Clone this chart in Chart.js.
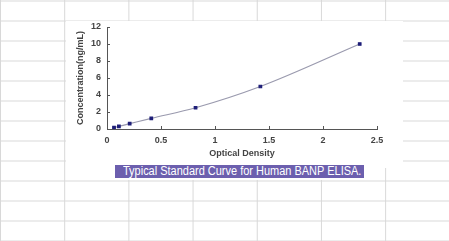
<!DOCTYPE html>
<html>
<head>
<meta charset="utf-8">
<script src="https://cdn.jsdelivr.net/npm/chart.js@4.4.1/dist/chart.umd.min.js"></script>
<style>
  html, body { margin: 0; padding: 0; }
  body {
    width: 449px; height: 241px; position: relative; overflow: hidden;
    background-color: #fff;
    background-image:
      linear-gradient(to right, #d8d8d8 1px, transparent 1px),
      linear-gradient(to bottom, #d8d8d8 1px, transparent 1px);
    background-size: 64.2px 20px, 64.2px 20px;
    background-position: 0px 0.5px, 0px 0.5px;
  }
  .sheet-a { position: absolute; left: 66px; top: 21px; width: 337px; height: 147px; background: #fff; }
  .sheet-b { position: absolute; left: 104px; top: 168px; width: 281px; height: 12px; background: #fff; }
  #wrap { position: absolute; left: 0; top: 0; width: 449px; height: 241px; }
  .caption {
    position: absolute; left: 115px; top: 165px; width: 249px; height: 13px;
    background: #6c5fae; overflow: hidden;
  }
  .caption span {
    position: absolute; left: 8px; top: 0; color: #fff;
    font: 12.5px "Liberation Sans", Arial, sans-serif; line-height: 13px;
    white-space: nowrap; transform-origin: 0 50%;
  }
</style>
</head>
<body>
<div class="sheet-a"></div>
<div class="sheet-b"></div>
<div id="wrap"><canvas id="my" width="449" height="241"></canvas></div>
<div class="caption"><span id="cap">Typical Standard Curve for Human BANP ELISA.</span></div>
<script>
// optical density readings and matching standard concentrations
const od = [0.065, 0.11, 0.21, 0.41, 0.82, 1.42, 2.34];
const conc = [0.156, 0.312, 0.625, 1.25, 2.5, 5, 10];
const xTicks = [0, 0.5, 1, 1.5, 2, 2.5];
const yTicks = [0, 2, 4, 6, 8, 10, 12];

const points = od.map((v, i) => ({ x: v, y: conc[i] }));

// squeeze the caption so it fits its band like the original
const cap = document.getElementById('cap');
cap.style.transform = 'scaleX(' + (238 / cap.offsetWidth) + ')';

// excel style tick marks drawn inside the plot
const insideTicks = {
  id: 'insideTicks',
  afterDraw(chart) {
    const c = chart.ctx;
    const xs = chart.scales.x, ys = chart.scales.y;
    c.save();
    c.strokeStyle = '#555';
    c.lineWidth = 1;
    c.beginPath();
    xs.ticks.forEach((t, i) => {
      const px = Math.round(xs.getPixelForTick(i)) + 0.5;
      c.moveTo(px, ys.bottom);
      c.lineTo(px, ys.bottom - 3);
    });
    ys.ticks.forEach((t, i) => {
      const py = Math.round(ys.getPixelForTick(i)) + 0.5;
      c.moveTo(xs.left, py);
      c.lineTo(xs.left + 3, py);
    });
    c.stroke();
    c.restore();
  }
};

const font = { family: 'Liberation Sans', size: 9, weight: 'bold' };

const ctx = document.getElementById('my').getContext('2d');
new Chart(ctx, {
  type: 'scatter',
  data: {
    datasets: [{
      data: points,
      showLine: true,
      borderColor: '#9a9aae',
      borderWidth: 1.2,
      cubicInterpolationMode: 'monotone',
      pointBackgroundColor: '#1e1e78',
      pointBorderColor: '#1e1e78',
      pointRadius: 1.8,
      pointStyle: 'rect'
    }]
  },
  options: {
    responsive: false,
    animation: false,
    layout: { padding: { left: 75, right: 72, top: 27, bottom: 82 } },
    plugins: { legend: { display: false }, tooltip: { enabled: false } },
    scales: {
      x: {
        type: 'linear', min: 0, max: 2.5,
        afterBuildTicks: s => { s.ticks = xTicks.map(v => ({ value: v })); },
        afterFit: s => { s.height = 30; },
        grid: { display: false, drawTicks: false },
        border: { color: '#555', width: 1 },
        ticks: { padding: 6, color: '#444', font, callback: v => String(v) },
        title: { display: true, text: 'Optical Density', color: '#444', padding: { top: 2, bottom: 0 }, font }
      },
      y: {
        type: 'linear', min: 0, max: 12,
        afterBuildTicks: s => { s.ticks = yTicks.map(v => ({ value: v })); },
        afterFit: s => { s.width = 32; },
        grid: { display: false, drawTicks: false },
        border: { color: '#555', width: 1 },
        ticks: { padding: 6, color: '#444', font, callback: v => String(v) },
        title: { display: true, text: 'Concentration(ng/mL)', color: '#444', padding: 0, font }
      }
    }
  },
  plugins: [insideTicks]
});
</script>
</body>
</html>
